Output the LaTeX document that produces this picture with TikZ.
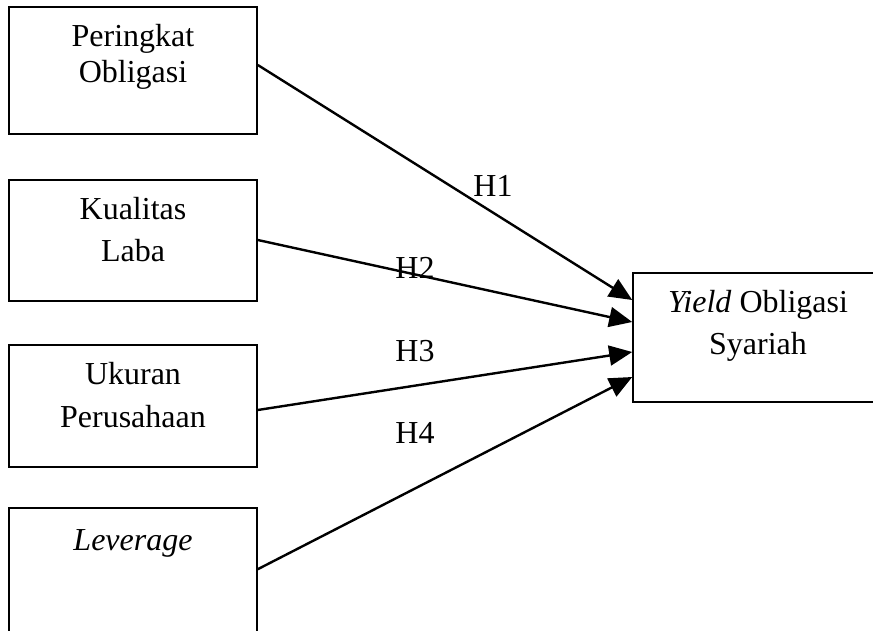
\documentclass[tikz,border=0pt]{standalone}
\usepackage{fontspec}
\setmainfont{Liberation Serif}
\usetikzlibrary{arrows.meta}
\begin{document}
\begin{tikzpicture}[x=1pt,y=1pt,
  box/.style={draw, line width=1.6pt, rectangle, inner sep=0pt},
  lbl/.style={anchor=base, inner sep=0pt, font=\fontsize{32}{38}\selectfont},
  conn/.style={line width=2.4pt, -{Triangle[length=23pt,width=20pt]}}]
\useasboundingbox (0,0) rectangle (873,630);
\clip (0,0) rectangle (873,630);
% boxes
\node[box, minimum width=248pt, minimum height=127pt] (b1) at (133,559.5) {};
\node[box, minimum width=248pt, minimum height=121pt] (b2) at (133,389.5) {};
\node[box, minimum width=248pt, minimum height=122pt] (b3) at (133,224) {};
\node[box, minimum width=248pt, minimum height=160pt] (b4) at (133,42) {};
\node[box, minimum width=267pt, minimum height=129pt] (y) at (766.5,292.5) {};
% texts
\node[lbl] (t1a) at (133,583) {Peringkat};
\node[lbl] (t1b) at (133,547) {Obligasi};
\node[lbl] (t2a) at (133,410) {Kualitas};
\node[lbl] (t2b) at (133,368) {Laba};
\node[lbl] (t3a) at (133,245) {Ukuran};
\node[lbl] (t3b) at (133,203) {Perusahaan};
\node[lbl] (t4a) at (133,80) {\itshape Leverage};
\node[lbl] (tya) at (758,317) {\textit{Yield} Obligasi};
\node[lbl] (tyb) at (758,275) {Syariah};
% connectors
\draw[conn] ([yshift=5.5pt]b1.east) -- ([yshift=37.5pt]y.west);
\draw[conn] ([yshift=0.5pt]b2.east) -- ([yshift=15.5pt]y.west);
\draw[conn] ([yshift=-4pt]b3.east) -- ([yshift=-14.5pt]y.west);
\draw[conn] ([yshift=-62pt]b4.north east) -- ([yshift=-39.5pt]y.west);
% hypothesis labels
\node[lbl] (h1) at (493,433) {H1};
\node[lbl] (h2) at (415,351) {H2};
\node[lbl] (h3) at (415,269) {H3};
\node[lbl] (h4) at (415,187) {H4};
\end{tikzpicture}
\end{document}
